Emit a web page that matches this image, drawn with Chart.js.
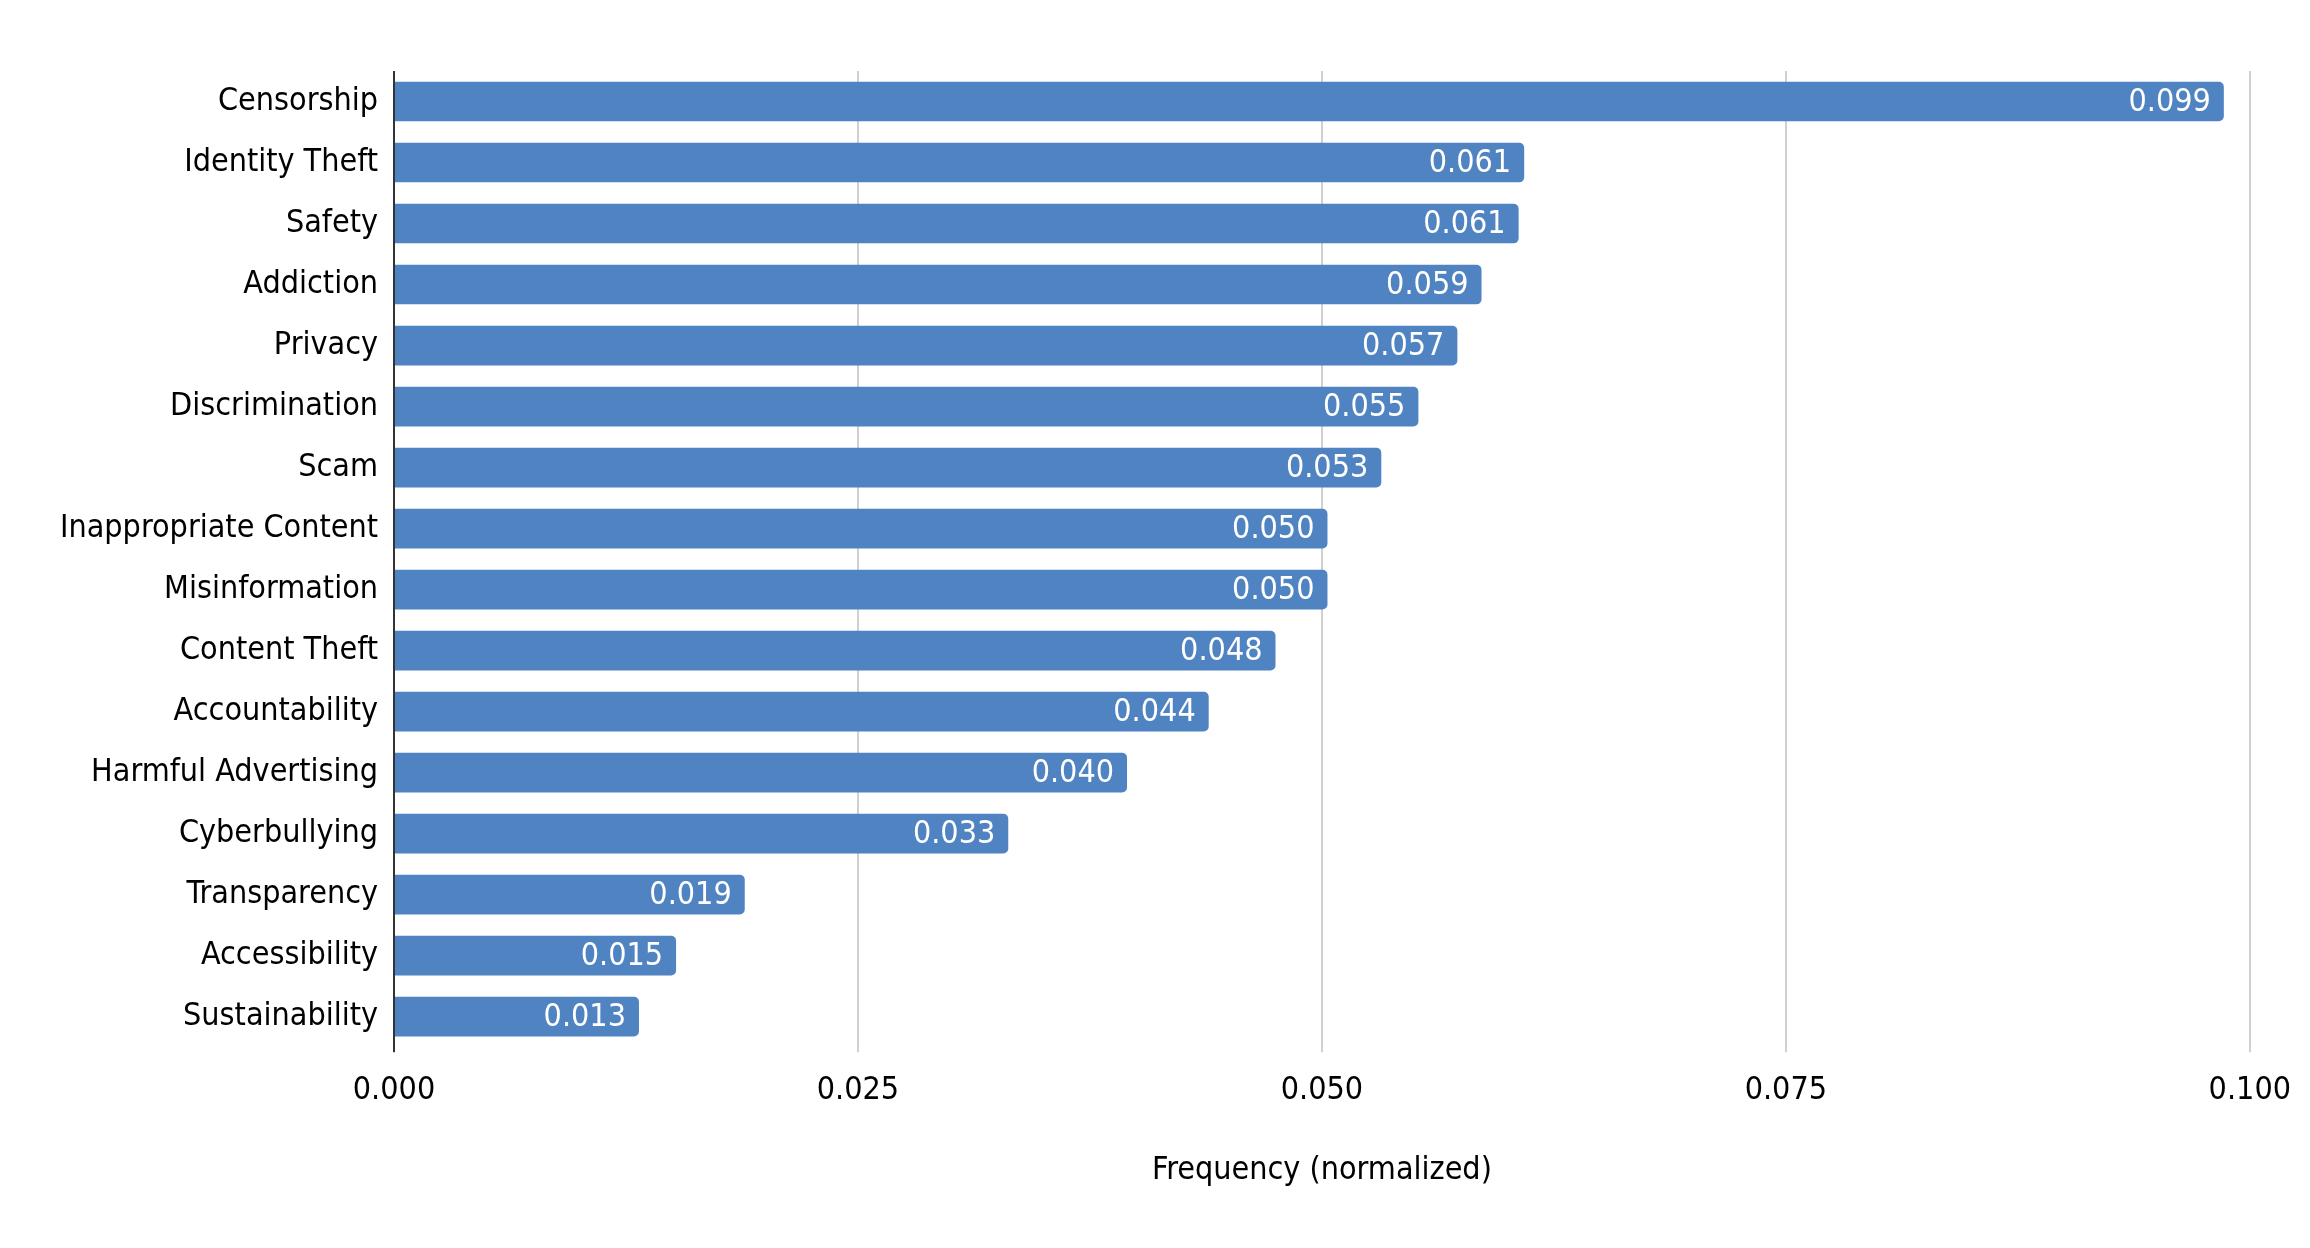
<!DOCTYPE html>
<html>
<head>
<meta charset="utf-8">
<title>Frequency (normalized)</title>
<script src="https://cdn.jsdelivr.net/npm/chart.js@4.4.0/dist/chart.umd.min.js"></script>
<style>
    html, body { margin: 0; padding: 0; background: #ffffff; }
    #wrap { width: 2310px; height: 1248px; }
</style>
</head>
<body>
<div id="wrap"><canvas id="freqChart"></canvas></div>
<script>
// Chart data
const categories = [
    'Censorship', 'Identity Theft', 'Safety', 'Addiction', 'Privacy',
    'Discrimination', 'Scam', 'Inappropriate Content', 'Misinformation',
    'Content Theft', 'Accountability', 'Harmful Advertising', 'Cyberbullying',
    'Transparency', 'Accessibility', 'Sustainability'
];
const frequencies = [
    0.0986, 0.0609, 0.0606, 0.0586, 0.0573,
    0.0552, 0.0532, 0.0503, 0.0503,
    0.0475, 0.0439, 0.0395, 0.0331,
    0.0189, 0.0152, 0.0132
];
const xTicks = [0, 0.025, 0.05, 0.075, 0.1];

const FONT = "'DejaVu Sans Condensed', 'Liberation Sans', sans-serif";

// Value labels drawn inside the end of each bar
const barLabels = {
    id: 'barLabels',
    afterDatasetsDraw(chart) {
        const ctx = chart.ctx;
        const meta = chart.getDatasetMeta(0);
        ctx.save();
        ctx.font = '32px ' + FONT;
        ctx.fillStyle = '#ffffff';
        ctx.textAlign = 'right';
        ctx.textBaseline = 'middle';
        meta.data.forEach(function(bar, i) {
            ctx.fillText(frequencies[i].toFixed(3), bar.x - 13, bar.y + 1);
        });
        ctx.restore();
    }
};

document.addEventListener('DOMContentLoaded', function() {
    const ctx = document.getElementById('freqChart');
    new Chart(ctx, {
        type: 'bar',
        data: {
            labels: categories,
            datasets: [{
                label: 'Frequency',
                data: frequencies,
                backgroundColor: '#4F83C1',
                borderWidth: 0,
                borderRadius: 5,
                barPercentage: 0.65,
                categoryPercentage: 1.0
            }]
        },
        options: {
            indexAxis: 'y',
            responsive: true,
            maintainAspectRatio: false,
            animation: false,
            layout: {
                padding: { top: 71, right: 60, bottom: 58, left: 0 }
            },
            scales: {
                x: {
                    min: 0,
                    max: 0.1,
                    afterBuildTicks: function(scale) {
                        scale.ticks = xTicks.map(function(v) { return { value: v }; });
                    },
                    ticks: {
                        padding: 19,
                        color: '#000000',
                        font: { family: FONT, size: 32 },
                        callback: function(v) { return Number(v).toFixed(3); }
                    },
                    grid: {
                        color: function(c) { return c.tick && c.tick.value === 0 ? '#333333' : '#d0d0d0'; },
                        lineWidth: 2,
                        drawTicks: true,
                        tickLength: 5
                    },
                    border: { display: false },
                    title: {
                        display: true,
                        text: 'Frequency (normalized)',
                        color: '#000000',
                        font: { family: FONT, size: 32 },
                        padding: { top: 23, bottom: 0 }
                    }
                },
                y: {
                    afterFit: function(scale) { scale.width = 394; },
                    ticks: {
                        padding: 16,
                        color: '#000000',
                        font: { family: FONT, size: 32 }
                    },
                    grid: { display: false, drawTicks: false },
                    border: { display: false }
                }
            },
            plugins: {
                legend: { display: false },
                tooltip: { enabled: false }
            }
        },
        plugins: [barLabels]
    });
});
</script>
</body>
</html>
